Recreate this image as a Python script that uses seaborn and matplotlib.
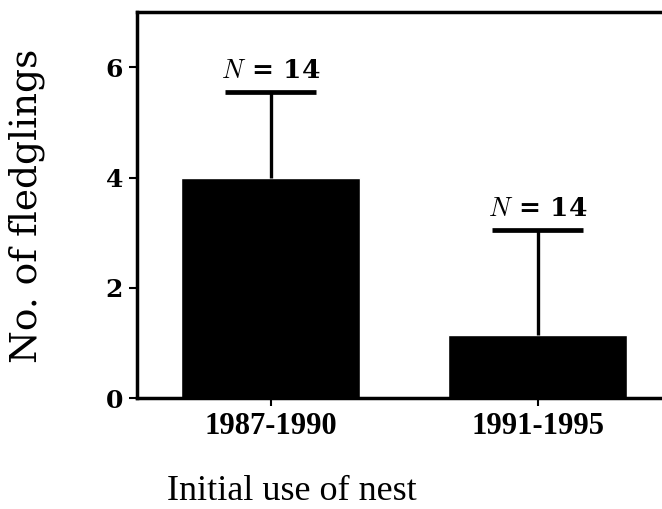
import matplotlib
matplotlib.use("Agg")
import matplotlib.pyplot as plt
import seaborn as sns
import pandas as pd

# values
periods = ["1987-1990", "1991-1995"]
mean_fledglings = [4.0, 1.15]
sd_fledglings = [1.55, 1.9]
n_nests = [14, 14]

sns.set_style("white")
plt.rcParams["mathtext.fontset"] = "cm"
plt.rcParams["text.color"] = "black"
plt.rcParams["axes.labelcolor"] = "black"
plt.rcParams["xtick.color"] = "black"
plt.rcParams["ytick.color"] = "black"

df = pd.DataFrame({"period": periods, "fledglings": mean_fledglings})

fig = plt.figure(figsize=(6.62, 5.09), dpi=100)
ax = fig.add_axes([0.207, 0.218, 0.855, 0.758])

sns.barplot(data=df, x="period", y="fledglings", color="black",
            width=0.67, errorbar=None, ax=ax, saturation=1)

# one-sided error bars (upper only), cap drawn at the top
xpos = list(range(len(periods)))
tops = [m + s for m, s in zip(mean_fledglings, sd_fledglings)]
ax.vlines(xpos, mean_fledglings, tops, color="black", linewidth=2.4)
ax.hlines(tops, [x - 0.17 for x in xpos], [x + 0.17 for x in xpos],
          color="black", linewidth=3.4)

for x, t, n in zip(xpos, tops, n_nests):
    ax.text(x, t + 0.16, r"$N$ = %d" % n, ha="center", va="bottom",
            fontsize=19, family="DejaVu Serif", fontweight="bold", color="black")

ax.set_ylim(0, 7)
ax.set_xlim(-0.5, 1.62)
ax.set_yticks([0, 2, 4, 6])
ax.set_yticklabels(["0", "2", "4", "6"], family="DejaVu Serif", fontweight="bold", fontsize=18)
ax.set_xticks(xpos)
ax.set_xticklabels(periods, family="Liberation Serif", fontweight="bold", fontsize=22)

ax.tick_params(axis="both", direction="out", length=6, width=1.5, color="black",
               labelcolor="black", left=True, bottom=True, pad=4)

for side in ["left", "top", "bottom"]:
    ax.spines[side].set_linewidth(2.5)
    ax.spines[side].set_color("black")
ax.spines["right"].set_visible(False)

ax.set_ylabel("No. of fledglings", family="DejaVu Serif", fontsize=27, color="black")
ax.yaxis.set_label_coords(-0.163, 0.497)
ax.set_xlabel("Initial use of nest", family="Liberation Serif", fontsize=26, color="black")
ax.xaxis.set_label_coords(0.274, -0.20)

fig.savefig("out.png", dpi=100)
